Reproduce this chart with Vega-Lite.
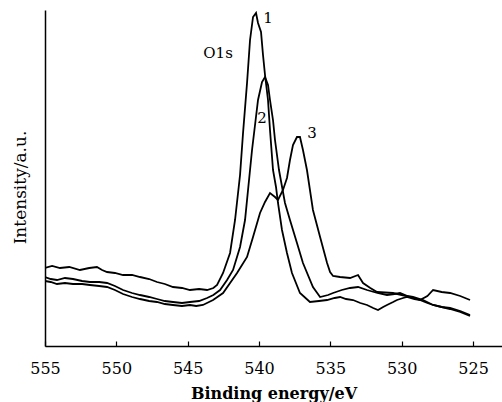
{
  "$schema": "https://vega.github.io/schema/vega-lite/v6.json",
  "width": 457,
  "height": 336,
  "autosize": {"type": "none"},
  "padding": {"left": 45, "top": 10, "right": 0, "bottom": 56},
  "background": "white",
  "config": {"view": {"stroke": null}, "font": "DejaVu Serif"},
  "datasets": {
    "spectra": [
      {"s": "1", "E": 555, "I": 78}, {"s": "1", "E": 554.5, "I": 80}, {"s": "1", "E": 553.95, "I": 78}, {"s": "1", "E": 553.3, "I": 79}, {"s": "1", "E": 552.55, "I": 76}, {"s": "1", "E": 551.9, "I": 78}, {"s": "1", "E": 551.36, "I": 79}, {"s": "1", "E": 551.0, "I": 76}, {"s": "1", "E": 550.65, "I": 74}, {"s": "1", "E": 550.1, "I": 73}, {"s": "1", "E": 549.53, "I": 71}, {"s": "1", "E": 548.9, "I": 71}, {"s": "1", "E": 548.34, "I": 69}, {"s": "1", "E": 547.7, "I": 67}, {"s": "1", "E": 547.15, "I": 64}, {"s": "1", "E": 546.6, "I": 62}, {"s": "1", "E": 546.03, "I": 59}, {"s": "1", "E": 545.4, "I": 58}, {"s": "1", "E": 544.84, "I": 56}, {"s": "1", "E": 544.2, "I": 57}, {"s": "1", "E": 543.64, "I": 56}, {"s": "1", "E": 543.2, "I": 58}, {"s": "1", "E": 542.94, "I": 61}, {"s": "1", "E": 542.52, "I": 73}, {"s": "1", "E": 542.03, "I": 93}, {"s": "1", "E": 541.68, "I": 126}, {"s": "1", "E": 541.33, "I": 171}, {"s": "1", "E": 541.12, "I": 213}, {"s": "1", "E": 540.84, "I": 263}, {"s": "1", "E": 540.63, "I": 306}, {"s": "1", "E": 540.42, "I": 329}, {"s": "1", "E": 540.21, "I": 333}, {"s": "1", "E": 540.07, "I": 323}, {"s": "1", "E": 539.86, "I": 314}, {"s": "1", "E": 539.72, "I": 291}, {"s": "1", "E": 539.58, "I": 271}, {"s": "1", "E": 539.37, "I": 246}, {"s": "1", "E": 539.23, "I": 216}, {"s": "1", "E": 539.02, "I": 176}, {"s": "1", "E": 538.81, "I": 159}, {"s": "1", "E": 538.67, "I": 143}, {"s": "1", "E": 538.39, "I": 116}, {"s": "1", "E": 538.04, "I": 93}, {"s": "1", "E": 537.69, "I": 73}, {"s": "1", "E": 537.13, "I": 53}, {"s": "1", "E": 536.43, "I": 44}, {"s": "1", "E": 535.8, "I": 45}, {"s": "1", "E": 535.23, "I": 46}, {"s": "1", "E": 534.7, "I": 48}, {"s": "1", "E": 534.32, "I": 49}, {"s": "1", "E": 533.9, "I": 47}, {"s": "1", "E": 533.41, "I": 46}, {"s": "1", "E": 532.9, "I": 43}, {"s": "1", "E": 532.43, "I": 41}, {"s": "1", "E": 532.0, "I": 38}, {"s": "1", "E": 531.66, "I": 36}, {"s": "1", "E": 531.3, "I": 39}, {"s": "1", "E": 531.03, "I": 41}, {"s": "1", "E": 530.6, "I": 44}, {"s": "1", "E": 530.33, "I": 46}, {"s": "1", "E": 529.9, "I": 48}, {"s": "1", "E": 529.63, "I": 49}, {"s": "1", "E": 529.1, "I": 47}, {"s": "1", "E": 528.72, "I": 46}, {"s": "1", "E": 528.2, "I": 50}, {"s": "1", "E": 527.8, "I": 56}, {"s": "1", "E": 527.2, "I": 54}, {"s": "1", "E": 526.61, "I": 53}, {"s": "1", "E": 525.9, "I": 50}, {"s": "1", "E": 525.21, "I": 46},
      {"s": "2", "E": 555, "I": 69}, {"s": "2", "E": 554.6, "I": 67}, {"s": "2", "E": 554.16, "I": 66}, {"s": "2", "E": 553.6, "I": 68}, {"s": "2", "E": 553.04, "I": 67}, {"s": "2", "E": 552.4, "I": 65}, {"s": "2", "E": 551.85, "I": 64}, {"s": "2", "E": 551.2, "I": 64}, {"s": "2", "E": 550.65, "I": 63}, {"s": "2", "E": 550.1, "I": 60}, {"s": "2", "E": 549.53, "I": 56}, {"s": "2", "E": 548.9, "I": 53}, {"s": "2", "E": 548.34, "I": 51}, {"s": "2", "E": 547.7, "I": 49}, {"s": "2", "E": 547.15, "I": 47}, {"s": "2", "E": 546.6, "I": 45}, {"s": "2", "E": 546.03, "I": 44}, {"s": "2", "E": 545.4, "I": 43}, {"s": "2", "E": 544.84, "I": 44}, {"s": "2", "E": 544.2, "I": 45}, {"s": "2", "E": 543.64, "I": 48}, {"s": "2", "E": 543.2, "I": 51}, {"s": "2", "E": 542.73, "I": 56}, {"s": "2", "E": 542.24, "I": 66}, {"s": "2", "E": 541.82, "I": 76}, {"s": "2", "E": 541.33, "I": 99}, {"s": "2", "E": 540.98, "I": 126}, {"s": "2", "E": 540.77, "I": 156}, {"s": "2", "E": 540.63, "I": 176}, {"s": "2", "E": 540.49, "I": 196}, {"s": "2", "E": 540.28, "I": 221}, {"s": "2", "E": 540.07, "I": 246}, {"s": "2", "E": 539.79, "I": 264}, {"s": "2", "E": 539.58, "I": 269}, {"s": "2", "E": 539.37, "I": 261}, {"s": "2", "E": 539.23, "I": 246}, {"s": "2", "E": 539.02, "I": 226}, {"s": "2", "E": 538.88, "I": 206}, {"s": "2", "E": 538.6, "I": 176}, {"s": "2", "E": 538.18, "I": 143}, {"s": "2", "E": 537.83, "I": 126}, {"s": "2", "E": 537.34, "I": 103}, {"s": "2", "E": 536.92, "I": 83}, {"s": "2", "E": 536.22, "I": 59}, {"s": "2", "E": 535.72, "I": 49}, {"s": "2", "E": 535.16, "I": 51}, {"s": "2", "E": 534.81, "I": 53}, {"s": "2", "E": 534.2, "I": 56}, {"s": "2", "E": 533.62, "I": 58}, {"s": "2", "E": 533.06, "I": 59}, {"s": "2", "E": 532.43, "I": 56}, {"s": "2", "E": 531.7, "I": 53}, {"s": "2", "E": 531.03, "I": 51}, {"s": "2", "E": 530.5, "I": 52}, {"s": "2", "E": 530.12, "I": 53}, {"s": "2", "E": 529.6, "I": 50}, {"s": "2", "E": 529.21, "I": 49}, {"s": "2", "E": 528.5, "I": 46}, {"s": "2", "E": 527.8, "I": 41}, {"s": "2", "E": 527.2, "I": 39}, {"s": "2", "E": 526.61, "I": 38}, {"s": "2", "E": 525.9, "I": 35}, {"s": "2", "E": 525.21, "I": 31},
      {"s": "3", "E": 555, "I": 65}, {"s": "3", "E": 554.6, "I": 64}, {"s": "3", "E": 554.16, "I": 62}, {"s": "3", "E": 553.6, "I": 63}, {"s": "3", "E": 553.04, "I": 62}, {"s": "3", "E": 552.4, "I": 62}, {"s": "3", "E": 551.85, "I": 61}, {"s": "3", "E": 551.2, "I": 60}, {"s": "3", "E": 550.65, "I": 59}, {"s": "3", "E": 550.1, "I": 56}, {"s": "3", "E": 549.53, "I": 52}, {"s": "3", "E": 548.9, "I": 49}, {"s": "3", "E": 548.34, "I": 47}, {"s": "3", "E": 547.7, "I": 45}, {"s": "3", "E": 547.15, "I": 44}, {"s": "3", "E": 546.6, "I": 42}, {"s": "3", "E": 546.03, "I": 41}, {"s": "3", "E": 545.4, "I": 40}, {"s": "3", "E": 544.84, "I": 41}, {"s": "3", "E": 544.4, "I": 40}, {"s": "3", "E": 543.93, "I": 41}, {"s": "3", "E": 543.22, "I": 46}, {"s": "3", "E": 542.52, "I": 53}, {"s": "3", "E": 541.54, "I": 73}, {"s": "3", "E": 540.84, "I": 89}, {"s": "3", "E": 540.42, "I": 109}, {"s": "3", "E": 539.93, "I": 133}, {"s": "3", "E": 539.58, "I": 144}, {"s": "3", "E": 539.23, "I": 153}, {"s": "3", "E": 538.88, "I": 149}, {"s": "3", "E": 538.67, "I": 146}, {"s": "3", "E": 538.32, "I": 156}, {"s": "3", "E": 538.04, "I": 168}, {"s": "3", "E": 537.83, "I": 186}, {"s": "3", "E": 537.62, "I": 201}, {"s": "3", "E": 537.34, "I": 209}, {"s": "3", "E": 537.13, "I": 209}, {"s": "3", "E": 536.92, "I": 196}, {"s": "3", "E": 536.64, "I": 176}, {"s": "3", "E": 536.22, "I": 136}, {"s": "3", "E": 535.72, "I": 109}, {"s": "3", "E": 535.23, "I": 83}, {"s": "3", "E": 535.02, "I": 74}, {"s": "3", "E": 534.81, "I": 70}, {"s": "3", "E": 534.32, "I": 69}, {"s": "3", "E": 533.62, "I": 68}, {"s": "3", "E": 533.06, "I": 71}, {"s": "3", "E": 532.71, "I": 63}, {"s": "3", "E": 532.2, "I": 58}, {"s": "3", "E": 531.73, "I": 54}, {"s": "3", "E": 530.61, "I": 53}, {"s": "3", "E": 530.0, "I": 51}, {"s": "3", "E": 529.42, "I": 49}, {"s": "3", "E": 528.72, "I": 46}, {"s": "3", "E": 528.2, "I": 43}, {"s": "3", "E": 527.8, "I": 41}, {"s": "3", "E": 527.2, "I": 39}, {"s": "3", "E": 526.61, "I": 37}, {"s": "3", "E": 525.9, "I": 34}, {"s": "3", "E": 525.21, "I": 30}
    ],
    "labels": [
      {"t": "1", "E": 539.37, "I": 328},
      {"t": "2", "E": 539.79, "I": 228},
      {"t": "3", "E": 536.29, "I": 213},
      {"t": "O1s", "E": 542.87, "I": 293}
    ]
  },
  "layer": [
    {
      "data": {"name": "spectra"},
      "mark": {"type": "line", "color": "#000000", "strokeWidth": 1.8, "clip": true},
      "encoding": {
        "x": {
          "field": "E", "type": "quantitative",
          "scale": {"domain": [522.97, 555], "reverse": true, "nice": false, "zero": false},
          "axis": {
            "values": [555, 550, 545, 540, 535, 530, 525],
            "title": "Binding energy/eV",
            "titleFont": "DejaVu Serif", "titleFontSize": 16, "titleFontWeight": "bold", "titleColor": "#000000",
            "titlePadding": 9,
            "labelFont": "DejaVu Serif", "labelFontSize": 16, "labelColor": "#000000",
            "labelPadding": 19,
            "tickSize": -5, "tickColor": "#000000", "tickWidth": 1.2,
            "domainColor": "#000000", "domainWidth": 1.5,
            "grid": false, "labelFlush": false
          }
        },
        "y": {
          "field": "I", "type": "quantitative",
          "scale": {"domain": [0, 336], "nice": false, "zero": true},
          "axis": {
            "title": "Intensity/a.u.",
            "titleFont": "DejaVu Serif", "titleFontSize": 17, "titleFontWeight": "normal", "titleColor": "#000000",
            "titlePadding": 16, "titleY": 177,
            "labels": false, "ticks": false, "grid": false,
            "domainColor": "#000000", "domainWidth": 1.5
          }
        },
        "detail": {"field": "s", "type": "nominal"}
      }
    },
    {
      "data": {"name": "labels"},
      "mark": {"type": "text", "font": "DejaVu Serif", "fontSize": 15, "color": "#000000", "align": "center", "baseline": "middle"},
      "encoding": {
        "x": {"field": "E", "type": "quantitative"},
        "y": {"field": "I", "type": "quantitative"},
        "text": {"field": "t"}
      }
    }
  ]
}
